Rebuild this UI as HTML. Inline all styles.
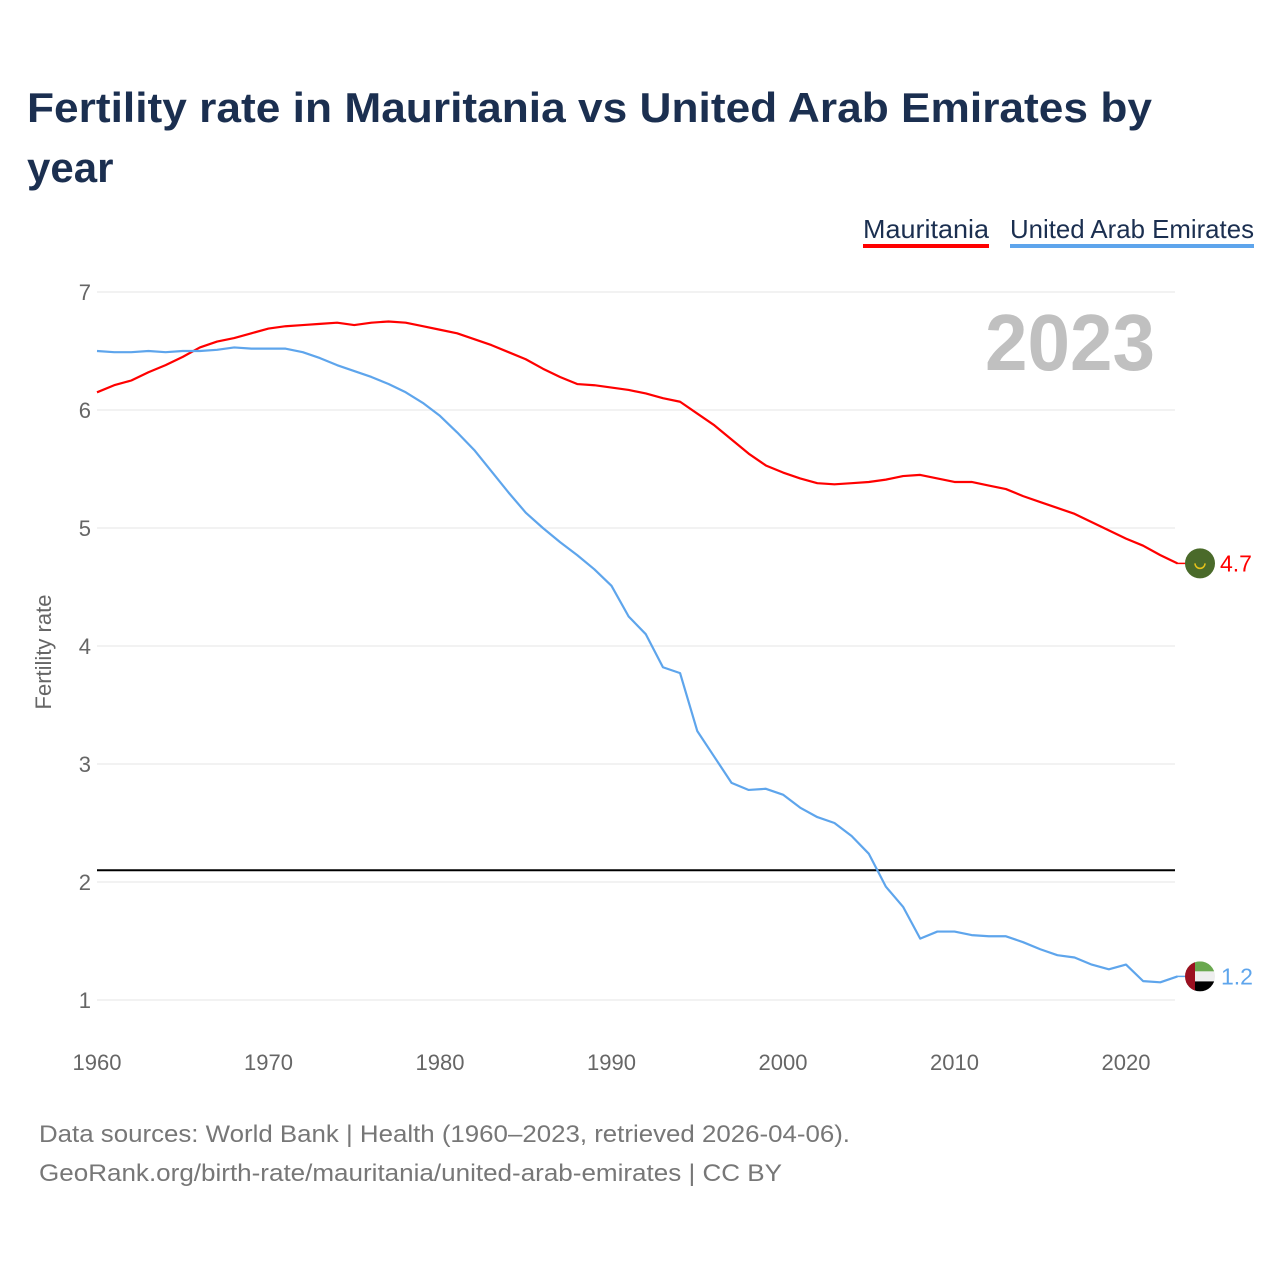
<!DOCTYPE html>
<html><head><meta charset="utf-8"><style>
body{margin:0;background:#fff;width:1280px;height:1280px;overflow:hidden;font-family:"Liberation Sans",sans-serif}
</style></head><body>
<svg width="1280" height="1280" xmlns="http://www.w3.org/2000/svg" font-family="Liberation Sans, sans-serif">
<text x="27" y="122" font-size="42" font-weight="bold" fill="#1b2f50" textLength="1125" lengthAdjust="spacingAndGlyphs">Fertility rate in Mauritania vs United Arab Emirates by</text>
<text x="27" y="182" font-size="42" font-weight="bold" fill="#1b2f50">year</text>
<g><text x="863" y="238" font-size="26" fill="#1b2f50" textLength="126" lengthAdjust="spacingAndGlyphs">Mauritania</text><rect x="863" y="244" width="126" height="4" fill="#ff0000"/></g>
<g><text x="1010" y="238" font-size="26" fill="#1b2f50" textLength="244" lengthAdjust="spacingAndGlyphs">United Arab Emirates</text><rect x="1010" y="244" width="244" height="4" fill="#5ea5ec"/></g>
<g id="grid"></g>
<text x="985" y="370" font-size="80" font-weight="bold" fill="#c0c0c0" textLength="170" lengthAdjust="spacingAndGlyphs">2023</text>
<text transform="translate(51,652) rotate(-90)" font-size="22" fill="#666" text-anchor="middle">Fertility rate</text>
<g id="lines"></g>
<text x="39" y="1142" font-size="24" fill="#777" textLength="811" lengthAdjust="spacingAndGlyphs">Data sources: World Bank | Health (1960–2023, retrieved 2026-04-06).</text>
<text x="39" y="1181" font-size="24" fill="#777" textLength="743" lengthAdjust="spacingAndGlyphs">GeoRank.org/birth-rate/mauritania/united-arab-emirates | CC BY</text>
</svg>
<script>
const years=[];for(let y=1960;y<=2023;y++)years.push(y);
const mauritania=[6.15,6.21,6.25,6.32,6.38,6.45,6.53,6.58,6.61,6.65,6.69,6.71,6.72,6.73,6.74,6.72,6.74,6.75,6.74,6.71,6.68,6.65,6.60,6.55,6.49,6.43,6.35,6.28,6.22,6.21,6.19,6.17,6.14,6.10,6.07,5.97,5.87,5.75,5.63,5.53,5.47,5.42,5.38,5.37,5.38,5.39,5.41,5.44,5.45,5.42,5.39,5.39,5.36,5.33,5.27,5.22,5.17,5.12,5.05,4.98,4.91,4.85,4.77,4.70];
const uae=[6.50,6.49,6.49,6.50,6.49,6.50,6.50,6.51,6.53,6.52,6.52,6.52,6.49,6.44,6.38,6.33,6.28,6.22,6.15,6.06,5.95,5.81,5.66,5.48,5.30,5.13,5.00,4.88,4.77,4.65,4.51,4.25,4.10,3.82,3.77,3.28,3.06,2.84,2.78,2.79,2.74,2.63,2.55,2.50,2.39,2.24,1.96,1.79,1.52,1.58,1.58,1.55,1.54,1.54,1.49,1.43,1.38,1.36,1.30,1.26,1.30,1.16,1.15,1.20];
const yTicks=[1,2,3,4,5,6,7];
const xTicks=[1960,1970,1980,1990,2000,2010,2020];
const replacement=2.1;
const NS="http://www.w3.org/2000/svg";
const X=y=>97+(y-1960)*17.15, Y=v=>292+(7-v)*118;
const grid=document.getElementById('grid'), lines=document.getElementById('lines');
function mk(tag,attrs,parent){const e=document.createElementNS(NS,tag);for(const k in attrs)e.setAttribute(k,attrs[k]);parent.appendChild(e);return e;}
yTicks.forEach(t=>{
 const l=mk('line',{x1:97,x2:1175,y1:Y(t),y2:Y(t),stroke:'#e6e6e6','stroke-width':1},grid);
 
 
 const tx=mk('text',{x:91,y:Y(t)+8,'font-size':22,fill:'#666','text-anchor':'end'},grid);tx.textContent=t;
 
 
});
xTicks.forEach(t=>{
 const tx=mk('text',{x:X(t),y:1070,'font-size':22,fill:'#666','text-anchor':'middle'},grid);tx.textContent=t;
 
 
});
const rl=mk('line',{x1:97,x2:1175,y1:Y(replacement),y2:Y(replacement),stroke:'#000','stroke-width':2},lines);


function series(vals,color,name){
 const p=mk('polyline',{points:vals.map((v,i)=>X(years[i])+','+Y(v)).join(' '),fill:'none',stroke:color,'stroke-width':2.2,'stroke-linejoin':'round'},lines);
 
 
}
series(mauritania,'#ff0000','mauritania');
series(uae,'#5ea5ec','uae');
const last=years.length-1;
let ym=Y(mauritania[last]);
mk('line',{x1:1177,x2:1186,y1:ym,y2:ym,stroke:'#ff0000','stroke-width':1.5},lines);
const cm=mk('circle',{cx:1200,cy:ym,r:15,fill:'#4a6a2a'},lines);


mk('path',{d:`M1195 ${ym} a5 5 0 0 0 10 0`,fill:'none',stroke:'#e8c31a','stroke-width':1.5},lines);
const lm=mk('text',{x:1220,y:ym+8,'font-size':23,fill:'#ff0000'},lines);lm.textContent=mauritania[last].toFixed(1);


let yu=Y(uae[last]);
mk('line',{x1:1177,x2:1186,y1:yu,y2:yu,stroke:'#5ea5ec','stroke-width':1.5},lines);
const g=mk('g',{},lines);


mk('clipPath',{id:'uc'},g);
mk('circle',{cx:1200,cy:yu,r:15},document.getElementById('uc'));
const gg=mk('g',{'clip-path':'url(#uc)'},g);
mk('rect',{x:1185,y:yu-15,width:30,height:10,fill:'#6aa84f'},gg);
mk('rect',{x:1185,y:yu-5,width:30,height:10,fill:'#eee'},gg);
mk('rect',{x:1185,y:yu+5,width:30,height:10,fill:'#000'},gg);
mk('rect',{x:1185,y:yu-15,width:10,height:30,fill:'#9b1020'},gg);
const lu=mk('text',{x:1221,y:yu+8,'font-size':23,fill:'#5ea5ec'},lines);lu.textContent=uae[last].toFixed(1);


</script>
</body></html>
